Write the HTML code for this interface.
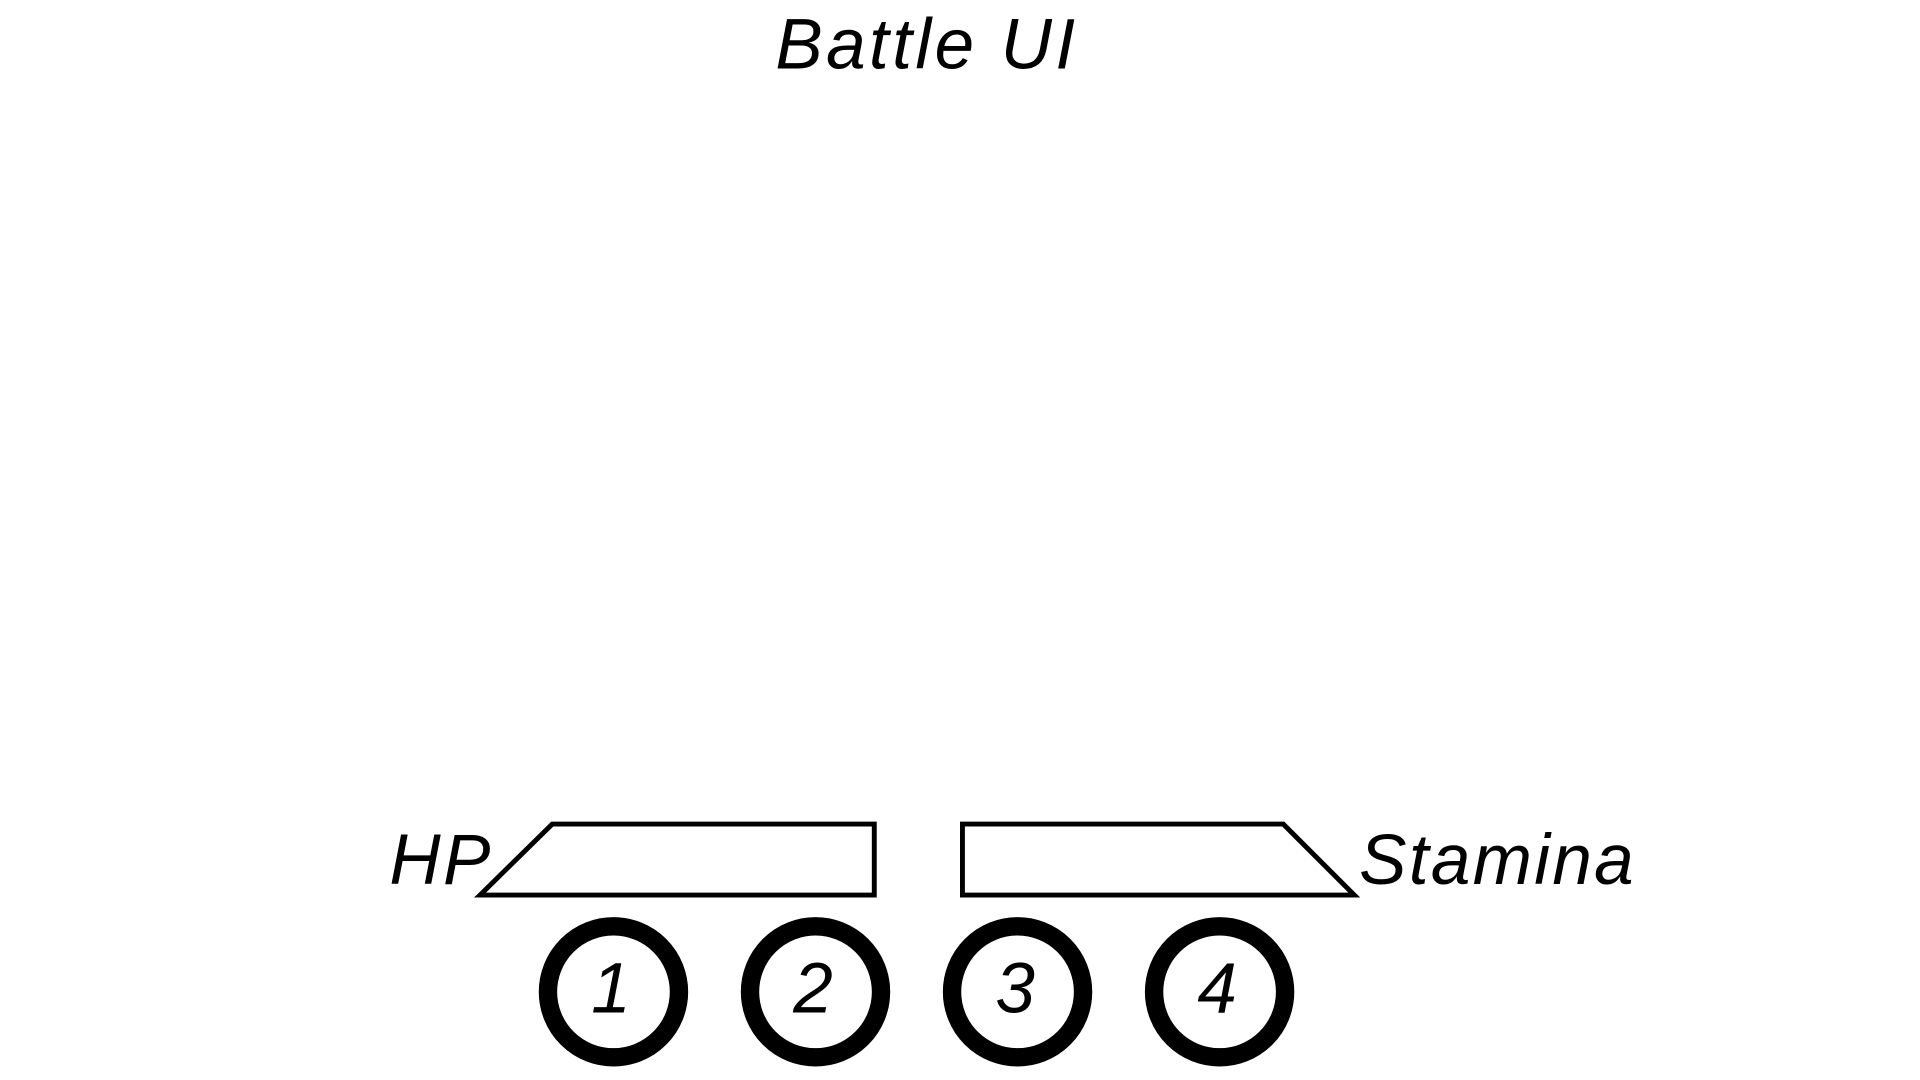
<!DOCTYPE html>
<html><head><meta charset="utf-8"><style>
html,body{margin:0;padding:0;background:#fff;}
svg{display:block;}
text{font-family:"Liberation Sans",Arial,sans-serif;font-style:italic;fill:#000;}
</style></head><body>
<svg width="1920" height="1080" viewBox="0 0 1568 882" xmlns="http://www.w3.org/2000/svg">
<text x="757" y="56" font-size="58" text-anchor="middle" letter-spacing="2.8">Battle UI</text>
<polygon points="392,731 451,673 714,673 714,731" fill="none" stroke="#000" stroke-width="4"/>
<polygon points="786,731 786,673 1048,673 1106,731" fill="none" stroke="#000" stroke-width="4"/>
<text x="318" y="722" font-size="58" letter-spacing="1.9">HP</text>
<text x="1110" y="722" font-size="58" letter-spacing="1.9">Stamina</text>
<g fill="none" stroke="#000" stroke-width="15">
<circle cx="501" cy="810" r="53.5"/>
<circle cx="666" cy="810" r="53.5"/>
<circle cx="831" cy="810" r="53.5"/>
<circle cx="996" cy="810" r="53.5"/>
</g>
<g font-size="58" text-anchor="middle">
<text x="499" y="827">1</text>
<text x="664" y="827">2</text>
<text x="829" y="827">3</text>
<text x="994" y="827">4</text>
</g>
</svg>
</body></html>
